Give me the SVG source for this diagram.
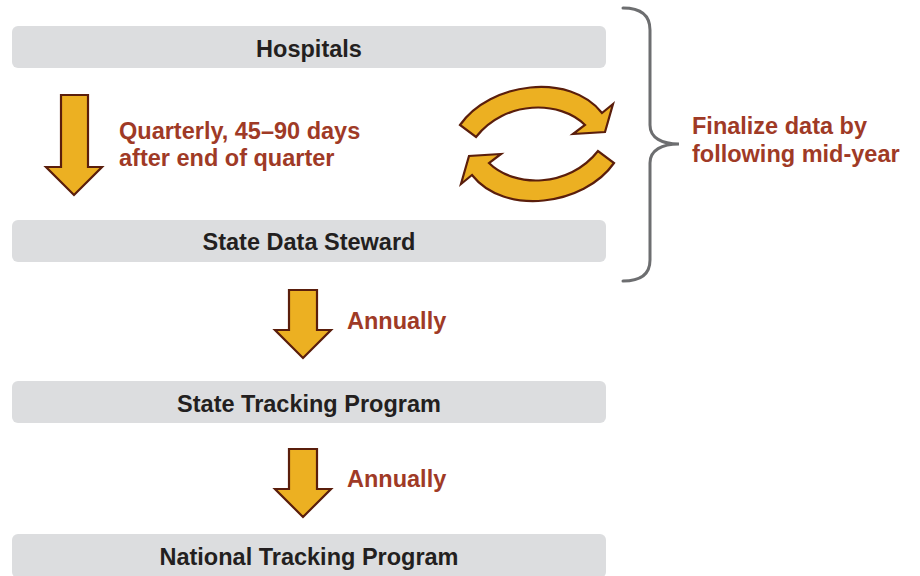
<svg xmlns="http://www.w3.org/2000/svg" width="920" height="576" viewBox="0 0 920 576">
<style>
.box{fill:#dcdddf}
.nt{font-family:"Liberation Sans",Arial,sans-serif;font-weight:bold;font-size:23.5px;fill:#231f20;text-anchor:middle}
.lt{font-family:"Liberation Sans",Arial,sans-serif;font-weight:bold;font-size:23.5px;fill:#9f3a26}
.arr{fill:#ecb022;stroke:#5a1e0c;stroke-width:2.2;stroke-linejoin:miter}
.brace{fill:none;stroke:#6d6e70;stroke-width:3;stroke-linecap:round}
</style>
<rect width="920" height="576" fill="#ffffff"/>
<g id="hospitals"><rect class="box" x="12" y="26" width="594" height="42" rx="6"/><text class="nt" x="309" y="56.5">Hospitals</text></g>
<g id="state-data-steward"><rect class="box" x="12" y="220" width="594" height="42" rx="6"/><text class="nt" x="309" y="250">State Data Steward</text></g>
<g id="state-tracking-program"><rect class="box" x="12" y="381" width="594" height="42" rx="6"/><text class="nt" x="309" y="412">State Tracking Program</text></g>
<g id="national-tracking-program"><rect class="box" x="12" y="534" width="594" height="44" rx="6"/><text class="nt" x="309" y="565">National Tracking Program</text></g>
<g id="connectors">
<polygon class="arr" points="61,95 88,95 88,167 102,167 74,195 46,167 61,167"/>
<text class="lt" x="119" y="139">Quarterly, 45–90 days</text>
<text class="lt" x="119" y="166">after end of quarter</text>
<polygon class="arr" points="289,290 317,290 317,330 331,330 303,358 275,330 289,330"/>
<text class="lt" x="347" y="329">Annually</text>
<polygon class="arr" points="289,449 317,449 317,489 331,489 303,517 275,489 289,489"/>
<text class="lt" x="347" y="487">Annually</text>
<path class="arr" d="M460,125 C490,82 570,72 602,113 L613,104 L605,132 L573,134 L585,125 C560,100 505,100 476,137 Z"/>
<path class="arr" d="M460,125 C490,82 570,72 602,113 L613,104 L605,132 L573,134 L585,125 C560,100 505,100 476,137 Z" transform="rotate(180 537 144)"/>
<path class="brace" d="M623,8 C640,8 650,14 650,30 L650,125 C650,138 662,144 679,144 C662,144 650,150 650,163 L650,260 C650,275 640,281 623,281"/>
<text class="lt" x="692" y="134">Finalize data by</text>
<text class="lt" x="692" y="162">following mid-year</text>
</g>
</svg>
